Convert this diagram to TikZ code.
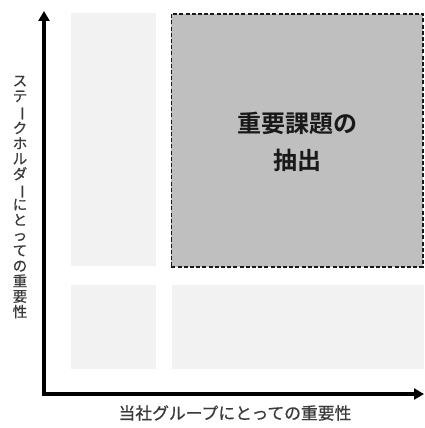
\documentclass[tikz,border=0pt]{standalone}
\usepackage{fontspec}
\usepackage{graphicx}
\setmainfont{Noto Sans CJK JP}
\newfontfamily\cjk{Noto Sans CJK JP}[FakeBold=0.6]
\newfontfamily\cjkbold{Noto Sans CJK JP}[UprightFont=*, BoldFont=* Bold]
\usetikzlibrary{arrows.meta}
\definecolor{lightcell}{HTML}{F2F2F2}
\definecolor{darkcell}{HTML}{BFBFBF}
\definecolor{labelgray}{HTML}{3A3A3A}
\newcommand{\vbar}{\rotatebox[origin=c]{-90}{ー}}
\begin{document}
\begin{tikzpicture}[x=1pt,y=-1pt,
  cell/.style={fill=lightcell,draw=none,inner sep=0pt,anchor=north west},
  keycell/.style={fill=darkcell,draw=black!90,dash pattern=on 4pt off 2.2pt,line width=1.8pt,inner sep=0pt,anchor=north west},
  axis/.style={line width=3.2pt,-{Triangle[length=10pt,width=11pt]}},
  lbl/.style={text=labelgray,inner sep=0pt}]
\useasboundingbox (0,0) rectangle (424,428);
% cells
\node[cell,minimum width=85pt,minimum height=253pt] (tl) at (71,13) {};
\node[cell,minimum width=85pt,minimum height=84pt] (bl) at (71,285) {};
\node[cell,minimum width=252pt,minimum height=84pt] (br) at (172,285) {};
\node[keycell,minimum width=251.5pt,minimum height=253pt] (key) at (170.5,13) {};
\node[align=center,font=\cjkbold\bfseries\fontsize{24}{37}\selectfont,text=black!90] (keytxt) at ([yshift=-1pt]key.center) {重要課題の\\抽出};
% axes
\coordinate (o) at (44,394);
\coordinate (ytop) at (44,11);
\coordinate (xend) at (424,394);
\draw[axis] ([yshift=-1.6pt]o) -- (ytop);
\draw[axis] ([xshift=-1.6pt]o) -- (xend);
% labels
\node[lbl,font=\cjk\fontsize{16.8}{17}\selectfont] (xl) at (235,413) {当社グループにとっての重要性};
\node[lbl,align=center,font=\cjk\fontsize{14.5}{15.3}\selectfont] (yl) at (20,197)
  {ス\\テ\\\vbar\\ク\\ホ\\ル\\ダ\\\vbar\\に\\と\\っ\\て\\の\\重\\要\\性};
\end{tikzpicture}
\end{document}
